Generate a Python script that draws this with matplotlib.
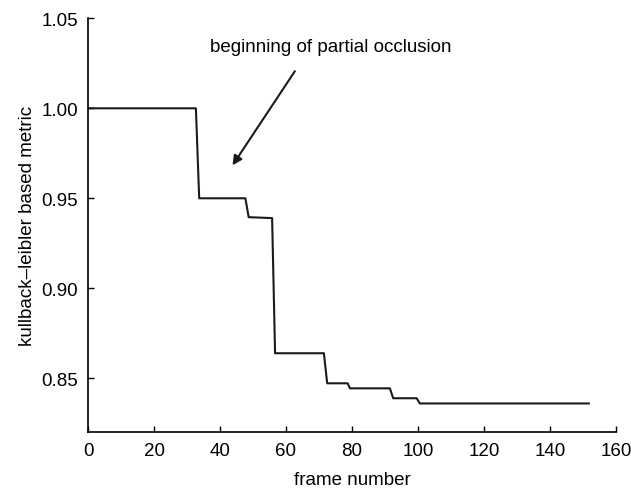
import matplotlib
matplotlib.use('Agg')
import matplotlib.pyplot as plt

# step curve vertices (frame, metric)
frames = [0, 32.7, 33.7, 47.7, 48.7, 55.8, 56.7, 71.5, 72.5, 78.7, 79.4,
          91.5, 92.5, 99.6, 100.6, 151.8]
metric = [1.000, 1.000, 0.950, 0.950, 0.9395, 0.9390, 0.8639, 0.8639, 0.8472,
          0.8472, 0.8444, 0.8444, 0.8389, 0.8389, 0.8360, 0.8360]

x_ticks = [0, 20, 40, 60, 80, 100, 120, 140, 160]
y_ticks = [0.85, 0.90, 0.95, 1.00, 1.05]

plt.rcParams['font.family'] = ['Liberation Sans', 'DejaVu Sans']

fig = plt.figure(figsize=(6.31, 4.89), dpi=100)
ax = fig.add_axes([0.1395, 0.114, 0.8365, 0.8465])

ax.plot(frames, metric, color='#1a1a1a', linewidth=1.5)

ax.set_xlim(0, 160)
ax.set_ylim(0.82, 1.05)
ax.set_xticks(x_ticks)
ax.set_yticks(y_ticks)
ax.set_yticklabels([f'{v:.2f}' for v in y_ticks])
ax.tick_params(direction='in', length=4, width=1, labelsize=13.5, pad=7)
ax.spines['top'].set_visible(False)
ax.spines['right'].set_visible(False)
for s in ('left', 'bottom'):
    ax.spines[s].set_linewidth(1.2)

ax.set_xlabel('frame number', fontsize=13.5, labelpad=9)
ax.set_ylabel('kullback\u2013leibler based metric', fontsize=13.5, labelpad=4)

# annotation text and arrow
ax.text(73.6, 1.0344, 'beginning of partial occlusion', ha='center', va='center',
        fontsize=13.5)
ax.annotate('', xy=(43.8, 0.9683), xytext=(62.7, 1.0206),
            arrowprops=dict(arrowstyle='-|>', color='#1a1a1a', lw=1.5,
                            shrinkA=0, shrinkB=0, mutation_scale=14))

fig.savefig('out.png', dpi=100, facecolor='white')
